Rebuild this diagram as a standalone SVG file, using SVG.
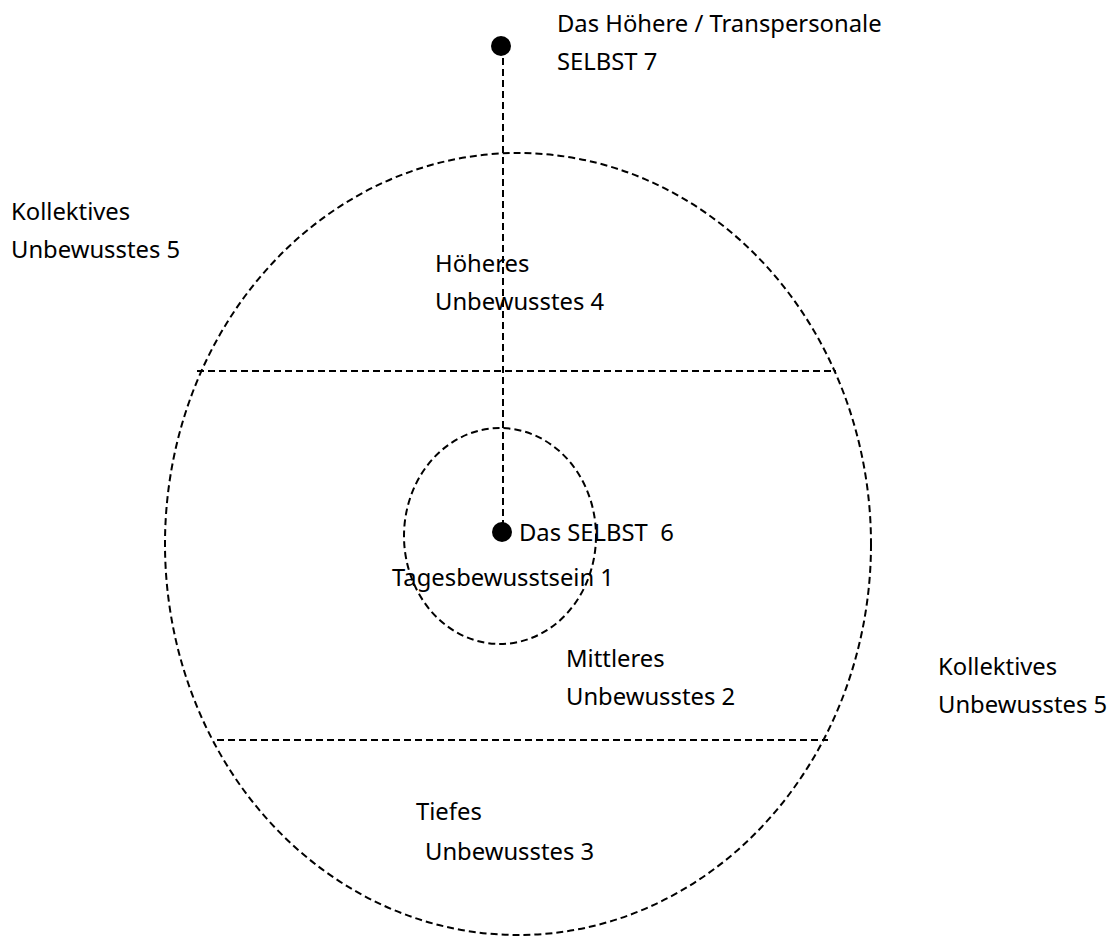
<svg xmlns="http://www.w3.org/2000/svg" width="1112" height="936" viewBox="0 0 1112 936">
<style>
.d{fill:none;stroke:#000;stroke-width:2;stroke-dasharray:7 4}
.t{font-family:"Noto Sans","Open Sans",sans-serif;font-size:23.8px;fill:#000}
.dot{fill:#000}
</style>
<rect width="1112" height="936" fill="#fff"/>
<g id="outer">
<ellipse class="d" cx="518" cy="544" rx="353" ry="391"/>
</g>
<g id="inner">
<ellipse class="d" cx="500" cy="536" rx="96" ry="108"/>
</g>
<g id="connectors">
<line class="d" x1="197" y1="371" x2="836" y2="371"/>
<line class="d" x1="217" y1="740" x2="828" y2="740"/>
<line class="d" x1="503" y1="47" x2="503" y2="531"/>
</g>
<g id="selbst7">
<circle class="dot" cx="501" cy="46" r="10"/>
<text class="t" x="557" y="32">Das Höhere / Transpersonale</text>
<text class="t" x="557" y="70">SELBST 7</text>
</g>
<g id="selbst6">
<circle class="dot" cx="502" cy="532" r="10"/>
<text class="t" x="519" y="541" xml:space="preserve">Das SELBST  6</text>
</g>
<g id="tages">
<text class="t" x="392" y="586">Tagesbewusstsein 1</text>
</g>
<g id="kollektiv-left">
<text class="t" x="11" y="220">Kollektives</text>
<text class="t" x="11" y="258">Unbewusstes 5</text>
</g>
<g id="kollektiv-right">
<text class="t" x="938" y="675">Kollektives</text>
<text class="t" x="938" y="713">Unbewusstes 5</text>
</g>
<g id="hoeheres">
<text class="t" x="435" y="272">Höheres</text>
<text class="t" x="435" y="310">Unbewusstes 4</text>
</g>
<g id="mittleres">
<text class="t" x="566" y="667">Mittleres</text>
<text class="t" x="566" y="705">Unbewusstes 2</text>
</g>
<g id="tiefes">
<text class="t" x="416" y="820">Tiefes</text>
<text class="t" x="425" y="860">Unbewusstes 3</text>
</g>
</svg>
